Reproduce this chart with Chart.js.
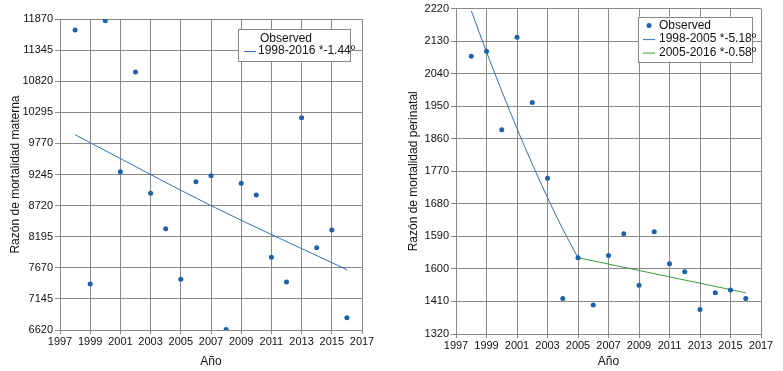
<!DOCTYPE html>
<html>
<head>
<meta charset="utf-8">
<script src="https://cdn.jsdelivr.net/npm/chart.js@4/dist/chart.umd.min.js"></script>
<style>
  html,body{margin:0;padding:0;background:#fff;}
  #wrap{position:relative;width:783px;height:371px;}
  #c1{position:absolute;left:0;top:0;}
  #c2{position:absolute;left:390px;top:0;}
</style>
</head>
<body>
<div id="wrap">
<canvas id="c1" width="390" height="371"></canvas>
<canvas id="c2" width="393" height="371"></canvas>
</div>
<script>
// ---------- data ----------
const years = [1998,1999,2000,2001,2002,2003,2004,2005,2006,2007,2008,2009,2010,2011,2012,2013,2014,2015,2016];
const maternalObserved = [11684,7397,11841,9290,10975,8928,8330,7476,9124,9225,6630,9097,8899,7847,7430,10204,8010,8308,6828];
const maternalTrendYears = [1998,2007,2016];
const maternalTrend = [9917,8720,7638];
const maternalYTicks = ['6620','7145','7670','8195','8720','9245','9770','10295','10820','11345','11870'];

const perinatalObserved = [2088,2102,1885,2141,1960,1751,1418,1531,1400,1537,1597,1455,1603,1514,1492,1388,1434,1442,1418];
const perinatalTrend1Years = [1998,1999,2000,2001,2002,2003,2004,2005];
const perinatalTrend1 = [2214,2100,1992,1888,1790,1697,1610,1531];
const perinatalTrend2Years = [2005,2016];
const perinatalTrend2 = [1531,1434];
const perinatalYTicks = ['1320','1410','1600','1590','1680','1770','1860','1950','2040','2130','2220'];

const xTickYears = ['1997','1999','2001','2003','2005','2007','2009','2011','2013','2015','2017'];

const labelsLeft = ['Observed','1998-2016 *-1.44º'];
const labelsRight = ['Observed','1998-2005 *-5.18º','2005-2016 *-0.58º'];

// ---------- styles ----------
const FONT = "'Liberation Sans', Arial, sans-serif";
const POINT = '#1c61aa';
const BLUE = '#3470b6';
const GREEN = '#3a9a3f';
const GRID = '#888888';

function pts(xs, ys){ return xs.map((x,i)=>({x:x, y:ys[i]})); }

const boxLegend = {
  id: 'boxLegend',
  afterDraw(chart, args, opts){
    const ctx = chart.ctx, a = chart.chartArea;
    const right = a.right - opts.right, top = a.top + opts.top;
    const left = right - opts.width, bottom = top + opts.height;
    ctx.save();
    ctx.fillStyle = '#fff';
    ctx.fillRect(left, top, opts.width, opts.height);
    ctx.strokeStyle = GRID; ctx.lineWidth = 1;
    ctx.strokeRect(Math.round(left)+0.5, Math.round(top)+0.5, opts.width, opts.height);
    ctx.font = '12px ' + FONT;
    ctx.textBaseline = 'middle';
    ctx.fillStyle = '#111';
    chart.data.datasets.forEach((ds, i) => {
      const y = top + opts.firstRow + i * opts.rowGap;
      const mx = left + opts.markerX;
      if (ds.showLine) {
        ctx.strokeStyle = ds.borderColor; ctx.lineWidth = 1;
        ctx.beginPath(); ctx.moveTo(mx - 6, y + 0.5); ctx.lineTo(mx + 6, y + 0.5); ctx.stroke();
      } else if (opts.pointMarker) {
        ctx.fillStyle = ds.backgroundColor;
        ctx.beginPath(); ctx.arc(mx, y, 2.5, 0, Math.PI*2); ctx.fill();
      }
      ctx.fillStyle = '#111';
      const tx = (!ds.showLine && opts.obsX) ? left + opts.obsX : left + opts.textX;
      ctx.fillText(ds.label, tx, y);
    });
    ctx.restore();
  }
};

function makeChart(id, cfg){
  return new Chart(document.getElementById(id), {
    type: 'scatter',
    data: { datasets: cfg.datasets },
    options: {
      responsive: false,
      devicePixelRatio: 1,
      animation: false,
      layout: { padding: cfg.padding },
      plugins: { legend: {display:false}, tooltip: {enabled:false}, boxLegend: cfg.legend },
      scales: {
        x: {
          type: 'linear', min: 1997, max: 2017,
          afterBuildTicks: s => { s.ticks = xTickYears.map(v => ({value: +v})); },
          afterFit: s => { s.height = cfg.xHeight; },
          grid: { color: GRID, tickColor: GRID, tickLength: 4, lineWidth: 1 },
          border: { color: GRID },
          ticks: { color: '#111', font: {family: FONT, size: 11}, padding: 1, maxRotation: 0, autoSkip: false,
                   callback: (v, i) => xTickYears[i] },
          title: { display: true, text: 'Año', color: '#111', font: {family: FONT, size: 12}, padding: {top:0, bottom: 2} }
        },
        y: {
          type: 'linear', min: cfg.yMin, max: cfg.yMax,
          afterBuildTicks: s => { s.ticks = cfg.yTicks.map((t,i) => ({value: cfg.yMin + i*cfg.yStep})); },
          afterFit: s => { s.width = cfg.yWidth; },
          grid: { color: GRID, tickColor: GRID, tickLength: 5, lineWidth: 1 },
          border: { color: GRID },
          ticks: { color: '#111', font: {family: FONT, size: 11}, padding: 2, autoSkip: false,
                   callback: (v, i) => cfg.yTicks[i] },
          title: { display: true, text: cfg.yTitle, color: '#111', font: {family: FONT, size: 12}, padding: {top: cfg.yTitlePad, bottom: 0} }
        }
      }
    },
    plugins: [boxLegend]
  });
}

makeChart('c1', {
  padding: {left: 0, top: 19, right: 28, bottom: 0},
  xHeight: 41, yWidth: 60,
  yMin: 6620, yMax: 11870, yStep: 525, yTicks: maternalYTicks,
  yTitle: 'Razón de mortalidad materna', yTitlePad: 8,
  legend: {right: 12, top: 10, width: 112, height: 32, firstRow: 9.5, rowGap: 12.5, markerX: 12, textX: 20, obsX: 22, pointMarker: false},
  datasets: [
    {label: labelsLeft[0], data: pts(years, maternalObserved), showLine: false, pointRadius: 2.5, pointBorderWidth: 0, backgroundColor: POINT, borderColor: POINT},
    {label: labelsLeft[1], data: pts(maternalTrendYears, maternalTrend), showLine: true, pointRadius: 0, borderWidth: 1, borderColor: BLUE, backgroundColor: BLUE, cubicInterpolationMode: 'monotone'}
  ]
});

makeChart('c2', {
  padding: {left: 0, top: 8, right: 22, bottom: 0},
  xHeight: 37, yWidth: 66,
  yMin: 1320, yMax: 2220, yStep: 90, yTicks: perinatalYTicks,
  yTitle: 'Razón de mortalidad perinatal', yTitlePad: 16,
  legend: {right: 9, top: 8, width: 114, height: 45, firstRow: 9, rowGap: 13.5, markerX: 11, textX: 21, obsX: 0, pointMarker: true},
  datasets: [
    {label: labelsRight[0], data: pts(years, perinatalObserved), showLine: false, pointRadius: 2.5, pointBorderWidth: 0, backgroundColor: POINT, borderColor: POINT},
    {label: labelsRight[1], data: pts(perinatalTrend1Years, perinatalTrend1), showLine: true, pointRadius: 0, borderWidth: 1, borderColor: BLUE, backgroundColor: BLUE, cubicInterpolationMode: 'monotone'},
    {label: labelsRight[2], data: pts(perinatalTrend2Years, perinatalTrend2), showLine: true, pointRadius: 0, borderWidth: 1, borderColor: GREEN, backgroundColor: GREEN}
  ]
});
</script>
</body>
</html>
